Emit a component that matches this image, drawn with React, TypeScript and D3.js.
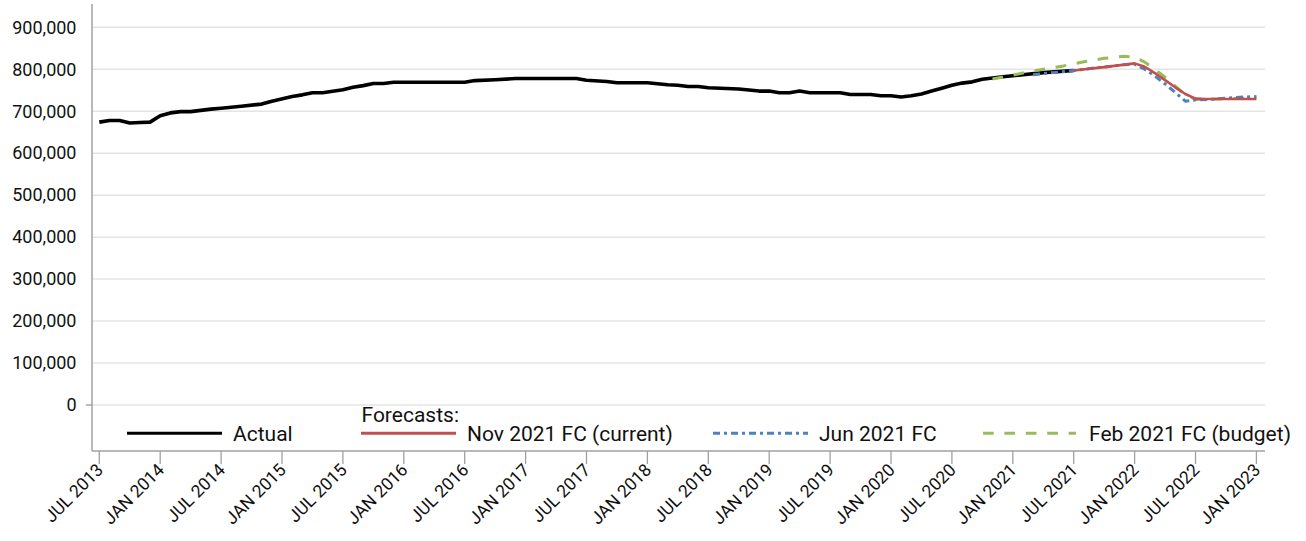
import React from "react";
import * as d3 from "d3";

const W = 1306;
const H = 541;

const yTicks = [0, 100000, 200000, 300000, 400000, 500000, 600000, 700000, 800000, 900000];
const xTickLabels = [
  "JUL 2013", "JAN 2014", "JUL 2014", "JAN 2015", "JUL 2015", "JAN 2016", "JUL 2016",
  "JAN 2017", "JUL 2017", "JAN 2018", "JUL 2018", "JAN 2019", "JUL 2019", "JAN 2020",
  "JUL 2020", "JAN 2021", "JUL 2021", "JAN 2022", "JUL 2022", "JAN 2023",
];

const actualMonths = [
  "2013-07", "2013-08", "2013-09", "2013-10", "2013-11", "2013-12", "2014-01", "2014-02",
  "2014-03", "2014-04", "2014-06", "2014-07", "2014-09", "2014-11", "2014-12", "2015-02",
  "2015-03", "2015-04", "2015-05", "2015-07", "2015-08", "2015-09", "2015-10", "2015-11",
  "2015-12", "2016-07", "2016-08", "2016-10", "2016-12", "2017-06", "2017-07", "2017-09",
  "2017-10", "2018-01", "2018-03", "2018-04", "2018-05", "2018-06", "2018-07", "2018-10",
  "2018-12", "2019-01", "2019-02", "2019-03", "2019-04", "2019-05", "2019-08", "2019-09",
  "2019-11", "2019-12", "2020-01", "2020-02", "2020-03", "2020-04", "2020-05", "2020-06",
  "2020-07", "2020-08", "2020-09", "2020-10", "2020-12", "2021-02", "2021-04", "2021-07",
];
const actualValues = [
  674000, 678000, 678000, 672000, 673000, 674000, 689000, 696000,
  699000, 699000, 705000, 707000, 712000, 717000, 724000, 735000,
  739000, 744000, 744000, 751000, 757000, 761000, 766000, 766000,
  769000, 769000, 773000, 775000, 778000, 778000, 774000, 771000,
  768000, 768000, 763000, 762000, 759000, 759000, 756000, 753000,
  748000, 748000, 744000, 744000, 748000, 744000, 744000, 740000,
  740000, 737000, 737000, 734000, 737000, 741000, 748000, 755000,
  762000, 767000, 770000, 776000, 782000, 787000, 792000, 797000,
];

const novMonths = [
  "2021-07", "2021-10", "2021-12", "2022-01", "2022-02", "2022-03", "2022-04", "2022-05",
  "2022-06", "2022-07", "2022-08", "2023-01",
];
const novValues = [
  797000, 805000, 811000, 814000, 806000, 791000, 774000, 757000,
  741000, 730000, 729000, 729000,
];

const junMonths = [
  "2021-03", "2021-05", "2021-07", "2021-09", "2021-11", "2021-12", "2022-01", "2022-02",
  "2022-03", "2022-04", "2022-05", "2022-06", "2022-07", "2022-09", "2022-11", "2023-01",
];
const junValues = [
  787000, 792000, 797000, 803000, 808000, 811000, 812000, 800000,
  784000, 765000, 745000, 724000, 727000, 729000, 733000, 735000,
];

const febMonths = [
  "2020-11", "2021-01", "2021-03", "2021-06", "2021-08", "2021-10", "2021-12", "2022-01",
  "2022-02", "2022-03", "2022-04", "2022-05", "2022-06", "2022-07", "2022-09", "2023-01",
];
const febValues = [
  777000, 786000, 796000, 808000, 818000, 826000, 831000, 829000,
  817000, 800000, 781000, 760000, 739000, 728000, 729000, 732000,
];

const legendLabels = ["Actual", "Nov 2021 FC (current)", "Jun 2021 FC", "Feb 2021 FC (budget)"];
const legendTitle = "Forecasts:";

const monthIndex = (s: string) => {
  const [y, m] = s.split("-").map(Number);
  return (y - 2013) * 12 + (m - 7);
};

const FONT = "Roboto, 'Liberation Sans', sans-serif";

export default function App() {
  const left = 92;
  const right = 1265;
  const top = 4;
  const bottom = 451;

  const x = d3.scaleLinear().domain([0, 114]).range([99.3, 1256.4]);
  const y = d3.scaleLinear().domain([-109600, 955500]).range([bottom, top]);

  const line = d3
    .line<[number, number]>()
    .x((d) => x(d[0]))
    .y((d) => y(d[1]))
    .curve(d3.curveLinear);

  const mk = (months: string[], vals: number[]) =>
    months.map((mm, i) => [monthIndex(mm), vals[i]] as [number, number]);

  const fmt = d3.format(",");

  const series = [
    { key: "feb", data: mk(febMonths, febValues), color: "#9bbb59", w: 3, dash: "10.7,10.7" },
    { key: "jun", data: mk(junMonths, junValues), color: "#4f81bd", w: 3, dash: "7,4,3,4" },
    { key: "nov", data: mk(novMonths, novValues), color: "#c0504d", w: 2.6, dash: "" },
  ];

  const legend = [
    { x1: 127, x2: 222, tx: 233, color: "#000", w: 3, dash: "" },
    { x1: 361, x2: 456, tx: 467, color: "#c0504d", w: 3, dash: "" },
    { x1: 713, x2: 808, tx: 819, color: "#4f81bd", w: 3, dash: "7,4,3,4" },
    { x1: 983, x2: 1076, tx: 1089, color: "#9bbb59", w: 3, dash: "10.7,10.7" },
  ];

  const xTickPos = xTickLabels.map((_, i) => x(i * 6));

  return (
    <svg
      width={W}
      height={H}
      style={{ position: "absolute", left: 0, top: 0, background: "#fff" }}
      fontFamily={FONT}
    >
      {yTicks.map((t) => (
        <line key={t} x1={left} x2={right} y1={y(t)} y2={y(t)} stroke="#e4e4e4" strokeWidth={1.5} />
      ))}
      {yTicks.map((t) => (
        <text key={"l" + t} x={76.5} y={y(t)} dy="0.35em" textAnchor="end" fontSize={18} fill="#111">
          {fmt(t)}
        </text>
      ))}
      <line x1={86} x2={left} y1={y(0)} y2={y(0)} stroke="#999" strokeWidth={1.3} />
      <line x1={left} x2={left} y1={top} y2={bottom} stroke="#a0a0a0" strokeWidth={1.5} />
      <line x1={left} x2={right} y1={bottom} y2={bottom} stroke="#a0a0a0" strokeWidth={1.5} />
      {xTickPos.map((px, i) => (
        <g key={"x" + i}>
          <line x1={px} x2={px} y1={bottom} y2={bottom + 13} stroke="#a0a0a0" strokeWidth={1.3} />
          <text
            transform={`translate(${px + 5},${bottom + 20}) rotate(-45)`}
            textAnchor="end"
            fontSize={17.5}
            fill="#111"
          >
            {xTickLabels[i]}
          </text>
        </g>
      ))}
      <path
        d={line(mk(actualMonths, actualValues)) || ""}
        fill="none"
        stroke="#000"
        strokeWidth={3.6}
        strokeLinejoin="round"
      />
      {series.map((s) => (
        <path
          key={s.key}
          d={line(s.data) || ""}
          fill="none"
          stroke={s.color}
          strokeWidth={s.w}
          strokeDasharray={s.dash || undefined}
          strokeLinejoin="round"
        />
      ))}
      <text x={361.5} y={421.7} fontSize={21} fill="#111">
        {legendTitle}
      </text>
      {legend.map((l, i) => (
        <g key={"lg" + i}>
          <line x1={l.x1} x2={l.x2} y1={433.3} y2={433.3} stroke={l.color} strokeWidth={l.w} strokeDasharray={l.dash || undefined} />
          <text x={l.tx} y={440.5} fontSize={21} fill="#111">
            {legendLabels[i]}
          </text>
        </g>
      ))}
    </svg>
  );
}
